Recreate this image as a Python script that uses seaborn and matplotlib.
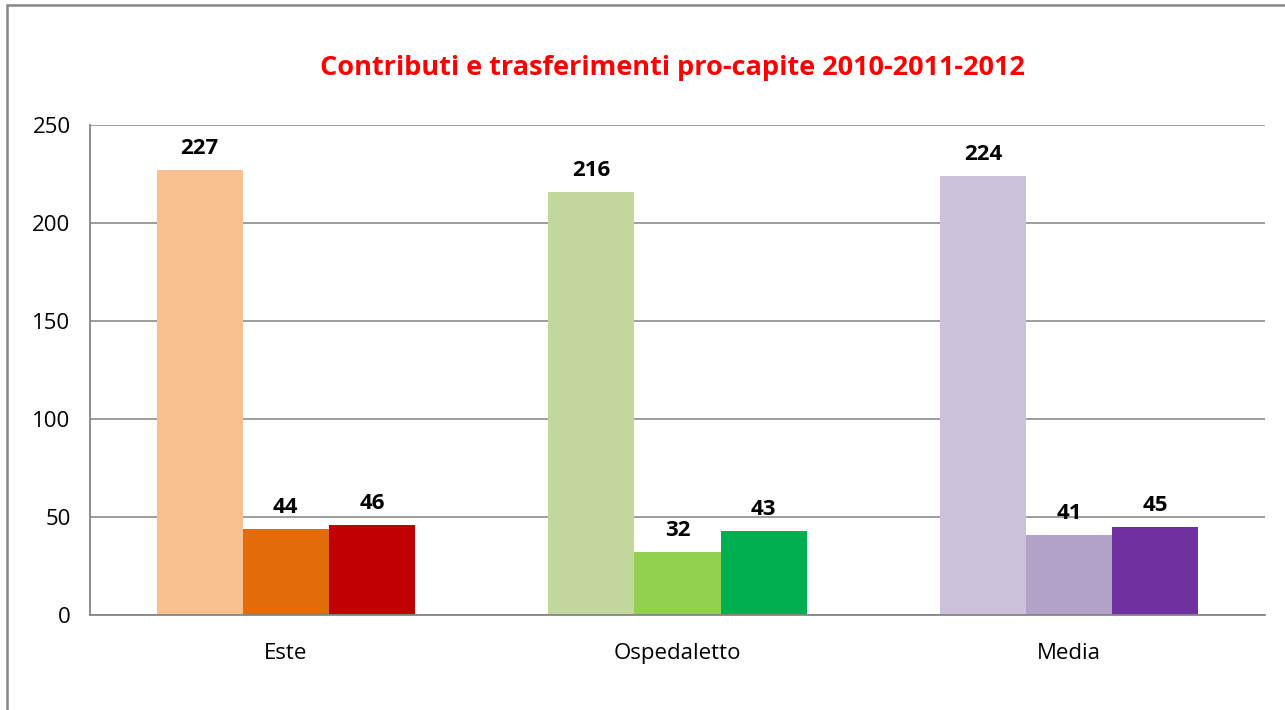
import pandas as pd
import seaborn as sns
import matplotlib.pyplot as plt
from matplotlib.patches import Rectangle

# dati
comuni = ["Este", "Ospedaletto", "Media"]
anni = ["2010", "2011", "2012"]
valori_este = [227, 44, 46]
valori_ospedaletto = [216, 32, 43]
valori_media = [224, 41, 45]

# colori per comune (una tonalità per anno)
colori = {
    "Este": ["#F9C090", "#E36C0A", "#C00000"],
    "Ospedaletto": ["#C3D69B", "#92D050", "#00B050"],
    "Media": ["#CCC1DA", "#B3A2C7", "#7030A0"],
}

righe = []
for comune, vals in zip(comuni, [valori_este, valori_ospedaletto, valori_media]):
    for anno, v in zip(anni, vals):
        righe.append({"comune": comune, "anno": anno, "valore": v})
df = pd.DataFrame(righe)

sns.set_style("white")
plt.rcParams['font.family'] = ['Open Sans', 'DejaVu Sans']
plt.rcParams['text.color'] = 'black'
plt.rcParams['xtick.labelcolor'] = 'black'
plt.rcParams['ytick.labelcolor'] = 'black'

fig = plt.figure(figsize=(12.85, 7.10), dpi=100)
ax = fig.add_axes([0.070, 0.1338, 0.9144, 0.6901])

sns.barplot(data=df, x="comune", y="valore", hue="anno", order=comuni,
            hue_order=anni, width=0.66, gap=0, saturation=1, legend=False, ax=ax)

# ricolora ogni barra ed etichetta
for j, cont in enumerate(ax.containers):
    for i, bar in enumerate(cont):
        bar.set_facecolor(colori[comuni[i]][j])
        bar.set_edgecolor("none")
    ax.bar_label(cont, fmt="%d", padding=8, fontsize=16, fontweight="bold", color="black")

ax.set_ylim(0, 250)
ax.set_yticks(range(0, 251, 50))
ax.set_xlim(-0.5, 2.5)
ax.set_xticks([-0.5, 0.5, 1.5, 2.5], minor=True)
ax.tick_params(axis="x", which="major", length=0, pad=20, labelsize=16)
ax.tick_params(axis="x", which="minor", length=6, width=1.3, color="#868686", direction="out")
ax.tick_params(axis="y", length=6, width=1.3, color="#868686", direction="out", labelsize=16, pad=8)
ax.set_xlabel("")
ax.set_ylabel("")
ax.yaxis.grid(True, color="#8c8c8c", linewidth=1.2)
ax.set_axisbelow(True)
for s in ["top", "right"]:
    ax.spines[s].set_visible(False)
for s in ["left", "bottom"]:
    ax.spines[s].set_color("#868686")
    ax.spines[s].set_linewidth(1.3)

fig.text(0.523, 0.904, "Contributi e trasferimenti pro-capite 2010-2011-2012",
         ha="center", va="center", color="red", fontsize=19.5, fontweight="bold")

# cornice del grafico
fig.patches.append(Rectangle((7 / 1285, -0.05), 1.1, 1.05 - 5 / 710,
                             transform=fig.transFigure, fill=False,
                             edgecolor="#868686", linewidth=1.8))

fig.savefig("out.png", dpi=100)
